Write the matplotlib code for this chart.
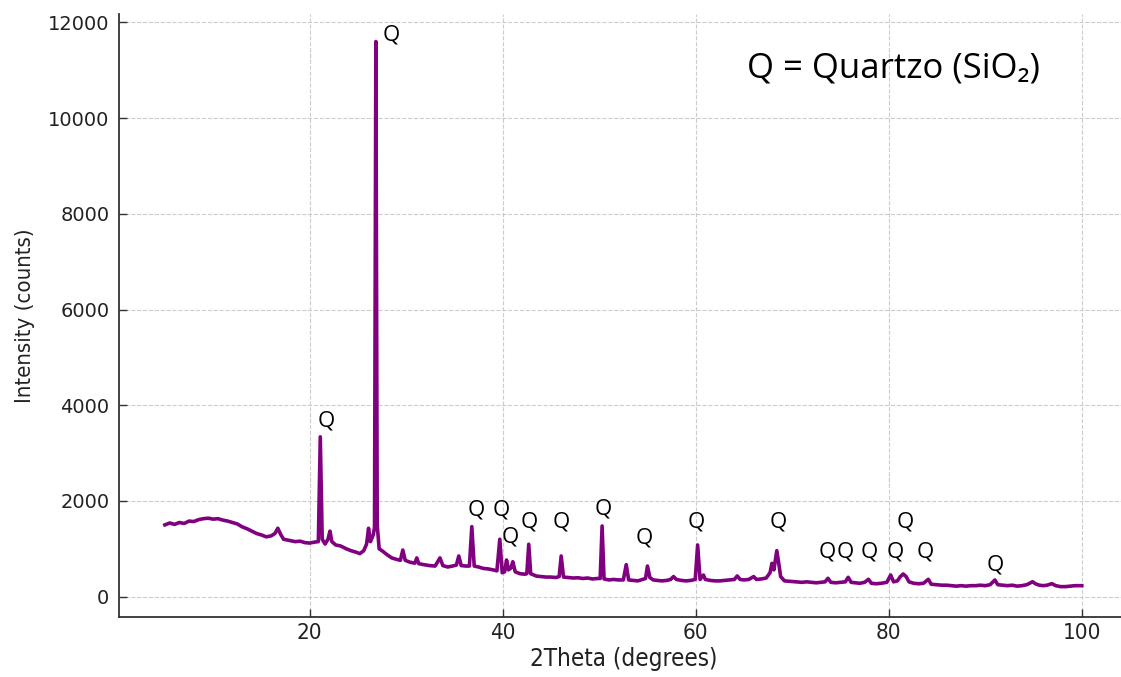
import matplotlib
matplotlib.use("Agg")
import matplotlib.pyplot as plt

# XRD pattern, read as (2theta, counts) pairs
two_theta = [
    5.0, 5.5, 6.0, 6.5, 7.0, 7.5, 8.0, 8.5, 9.0, 9.5, 10.0, 10.5, 11.0, 11.5,
    12.0, 12.5, 13.0, 13.5, 14.0, 14.5, 15.0, 15.5, 16.0, 16.4, 16.7, 17.0,
    17.3, 17.8, 18.5, 19.0, 19.5, 20.0, 20.5, 20.9, 21.1, 21.3, 21.6, 21.9,
    22.1, 22.3, 22.7, 23.2, 23.8, 24.3, 24.8, 25.2, 25.6, 25.9, 26.1, 26.3,
    26.6, 26.72, 26.86, 27.0, 27.2, 27.5, 28.0, 28.5, 29.0, 29.4, 29.65, 29.9,
    30.4, 30.9, 31.1, 31.3, 31.8, 32.4, 33.0, 33.5, 33.8, 34.3, 34.8, 35.2,
    35.45, 35.7, 36.2, 36.55, 36.8, 37.05, 37.5, 38.0, 38.5, 39.0, 39.4, 39.7,
    39.95, 40.2, 40.4, 40.6, 40.85, 41.05, 41.3, 41.8, 42.3, 42.5, 42.7, 42.9,
    43.5, 44.0, 44.5, 45.0, 45.5, 45.85, 46.06, 46.3, 46.8, 47.3, 47.8, 48.3,
    48.8, 49.3, 49.8, 50.1, 50.3, 50.5, 51.0, 51.5, 52.0, 52.5, 52.8, 53.05,
    53.5, 54.0, 54.5, 54.8, 55.0, 55.25, 55.6, 56.0, 56.5, 57.0, 57.4, 57.7,
    58.0, 58.5, 59.0, 59.5, 59.95, 60.2, 60.45, 60.8, 61.0, 61.5, 62.0, 62.5,
    63.0, 63.5, 64.0, 64.3, 64.6, 65.0, 65.5, 66.0, 66.3, 66.8, 67.3, 67.7,
    67.9, 68.1, 68.4, 68.6, 68.8, 69.2, 69.8, 70.5, 71.0, 71.5, 72.0, 72.5,
    73.0, 73.4, 73.7, 74.0, 74.5, 75.0, 75.5, 75.8, 76.1, 76.6, 77.0, 77.5,
    77.9, 78.2, 78.7, 79.2, 79.8, 80.2, 80.5, 80.9, 81.2, 81.5, 81.8, 82.1,
    82.6, 83.1, 83.6, 84.1, 84.4, 85.0, 85.5, 86.0, 86.5, 87.0, 87.5, 88.0,
    88.5, 89.0, 89.5, 90.0, 90.5, 91.0, 91.3, 91.8, 92.3, 92.8, 93.3, 93.8,
    94.3, 94.6, 94.9, 95.2, 95.6, 96.0, 96.4, 96.9, 97.3, 97.8, 98.3, 98.8,
    99.3, 100.0,
]
counts = [
    1500, 1540, 1510, 1550, 1530, 1580, 1570, 1610, 1630, 1640, 1620, 1630, 1600, 1580,
    1550, 1520, 1460, 1420, 1370, 1320, 1290, 1250, 1270, 1320, 1430, 1300,
    1200, 1180, 1150, 1160, 1130, 1120, 1140, 1150, 3340, 1200, 1100, 1200,
    1370, 1150, 1080, 1060, 1000, 960, 930, 900, 960, 1100, 1430, 1150,
    1300, 1450, 11600, 1500, 1000, 960, 880, 810, 780, 760, 975, 760,
    720, 700, 810, 690, 670, 650, 640, 810, 650, 620, 640, 660,
    850, 650, 640, 640, 1463, 640, 620, 590, 580, 560, 540, 1200,
    500, 520, 767, 560, 600, 730, 520, 480, 470, 480, 1095, 480,
    430, 420, 410, 410, 400, 420, 850, 410, 400, 390, 395, 380,
    390, 370, 380, 380, 1477, 370, 350, 360, 350, 350, 670, 350,
    340, 330, 360, 380, 640, 400, 350, 340, 330, 340, 360, 420,
    360, 340, 330, 340, 360, 1080, 360, 453, 360, 340, 330, 330,
    340, 350, 360, 433, 360, 350, 360, 420, 360, 370, 390, 500,
    697, 560, 962, 700, 420, 330, 320, 310, 300, 310, 300, 290,
    300, 310, 384, 300, 290, 300, 310, 405, 300, 290, 280, 300,
    363, 280, 270, 280, 300, 453, 310, 330, 420, 474, 420, 310,
    280, 270, 280, 363, 260, 250, 240, 240, 230, 220, 230, 220,
    230, 230, 240, 230, 250, 349, 250, 240, 230, 240, 220, 230,
    250, 280, 313, 270, 240, 230, 240, 272, 230, 210, 210, 220,
    230, 230,
]

# quartz reflections: label anchor (2theta, counts)
q_x = [21.7, 28.45, 37.3, 39.85, 40.8, 42.8, 46.1, 50.45, 54.7, 60.1,
       68.6, 73.6, 75.5, 78.0, 80.7, 81.7, 83.8, 91.0]
q_y = [3670, 11740, 1810, 1810, 1255, 1555, 1555, 1825, 1220, 1555,
       1555, 940, 940, 940, 940, 1565, 940, 660]

fig = plt.figure(figsize=(11.21, 6.77), dpi=100)
ax = fig.add_axes([0.1062, 0.0886, 0.8997, 0.8907])

ax.plot(two_theta, counts, color="purple", linewidth=2.6)

for x, y in zip(q_x, q_y):
    ax.text(x, y, "Q", ha="center", va="center", fontsize=16,
            family=["Open Sans", "DejaVu Sans"], color="black")

ax.text(0.768, 0.91, "Q = Quartzo (SiO\u2082)", transform=ax.transAxes,
        ha="center", va="center", fontsize=25,
        family=["Open Sans", "DejaVu Sans"])

ax.set_xlim(0.25, 104.75)
ax.set_ylim(-425, 12175)
ax.set_xticks([20, 40, 60, 80, 100])
ax.set_yticks(range(0, 12001, 2000))

ax.grid(True, linestyle="--", color="#cccccc", linewidth=0.8)
ax.set_axisbelow(True)
for side in ("top", "right"):
    ax.spines[side].set_visible(False)
for side in ("left", "bottom"):
    ax.spines[side].set_linewidth(1.3)
    ax.spines[side].set_color("#333333")

ax.tick_params(axis="both", direction="in", length=6, width=1, color="#333333")
ax.tick_params(axis="y", labelsize=14, pad=7, labelcolor="#222222")
ax.tick_params(axis="x", labelsize=16, pad=4, labelcolor="#222222")
for lbl in ax.get_xticklabels():
    lbl.set_fontstretch("condensed")

ax.set_xlabel("2Theta (degrees)", fontsize=17.4, fontstretch="condensed",
              labelpad=3, color="#222222")
ax.set_ylabel("Intensity (counts)", fontsize=15.9, fontstretch="condensed",
              labelpad=9, color="#222222")

fig.savefig("out.png", dpi=100)
